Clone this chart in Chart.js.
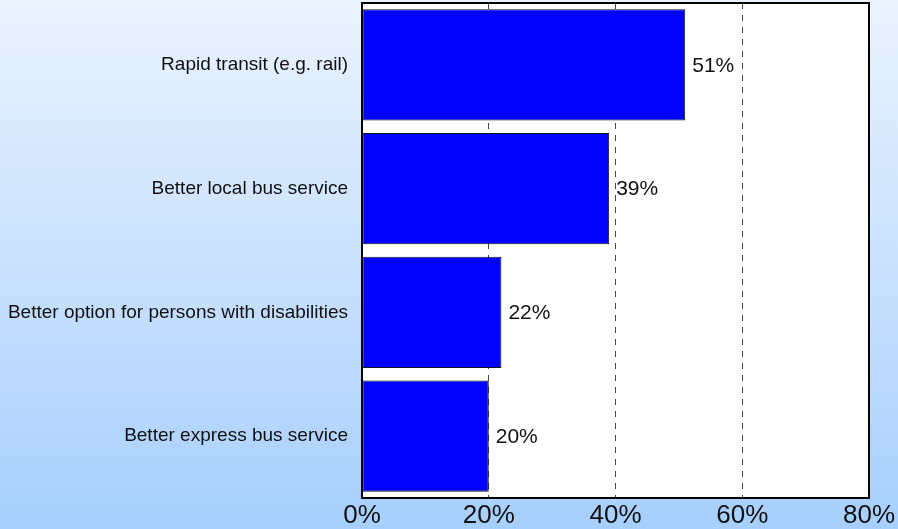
<!DOCTYPE html>
<html>
<head>
<meta charset="utf-8">
<script src="https://cdn.jsdelivr.net/npm/chart.js@4.4.1/dist/chart.umd.min.js"></script>
<style>
  html, body { margin: 0; padding: 0; }
  #wrap { width: 898px; height: 529px; }
</style>
</head>
<body>
<div id="wrap"><canvas id="chart"></canvas></div>
<script>
const categories = [
  "Rapid transit (e.g. rail)",
  "Better local bus service",
  "Better option for persons with disabilities",
  "Better express bus service",
];
const shares = [51, 39, 22, 20];
const tickValues = [0, 20, 40, 60, 80];

const FONT = "'Liberation Sans', Arial, sans-serif";

// gradient page background, white plot area, value labels, frame
const backdrop = {
  id: "backdrop",
  beforeDraw(chart) {
    const { ctx, width, height, chartArea } = chart;
    ctx.save();
    const g = ctx.createLinearGradient(0, 0, 0, height);
    g.addColorStop(0, "#ebf3fe");
    g.addColorStop(1, "#a7cffd");
    ctx.fillStyle = g;
    ctx.fillRect(0, 0, width, height);
    ctx.fillStyle = "#ffffff";
    ctx.fillRect(chartArea.left, chartArea.top, chartArea.right - chartArea.left, chartArea.bottom - chartArea.top);
    ctx.restore();
  },
  afterDatasetsDraw(chart) {
    const { ctx, chartArea } = chart;
    ctx.save();
    const meta = chart.getDatasetMeta(0);
    ctx.font = "21px " + FONT;
    ctx.fillStyle = "#111";
    ctx.textBaseline = "middle";
    ctx.textAlign = "left";
    meta.data.forEach((bar, i) => {
      ctx.fillText(shares[i] + "%", bar.x + 7, bar.y + 1);
    });
    ctx.strokeStyle = "#000";
    ctx.lineWidth = 2;
    ctx.strokeRect(chartArea.left, chartArea.top, chartArea.right - chartArea.left, chartArea.bottom - chartArea.top);
    ctx.restore();
  },
};

new Chart(document.getElementById("chart"), {
  type: "bar",
  data: {
    labels: categories,
    datasets: [{
      data: shares,
      backgroundColor: "#0000ff",
      borderColor: "#111",
      borderWidth: 1,
      borderSkipped: false,
      categoryPercentage: 0.9,
      barPercentage: 1,
    }],
  },
  options: {
    indexAxis: "y",
    responsive: true,
    maintainAspectRatio: false,
    animation: false,
    layout: { padding: { top: 3, right: 29, left: 0, bottom: 0 } },
    plugins: { legend: { display: false }, tooltip: { enabled: false } },
    scales: {
      x: {
        min: 0,
        max: 80,
        afterBuildTicks(scale) { scale.ticks = tickValues.map(v => ({ value: v })); },
        afterFit(scale) {
          scale.height = 31;
          scale.paddingLeft = 0;
          scale.paddingRight = 0;
        },
        border: { display: false, dash: [6, 6] },
        grid: {
          drawTicks: false,
          color: (c) => (c.tick.value > 0 && c.tick.value < 80 ? "#444" : "rgba(0,0,0,0)"),
          lineWidth: 1,
        },
        ticks: {
          padding: 2,
          color: "#111",
          font: { family: FONT, size: 26 },
          callback: (v) => v + "%",
          maxRotation: 0,
        },
      },
      y: {
        afterFit(scale) {
          scale.width = 362;
          scale.paddingTop = 0;
          scale.paddingBottom = 0;
        },
        border: { display: false },
        grid: { display: false, drawTicks: false },
        ticks: {
          padding: 14,
          color: "#111",
          font: { family: FONT, size: 19 },
        },
      },
    },
  },
  plugins: [backdrop],
});
</script>
</body>
</html>
